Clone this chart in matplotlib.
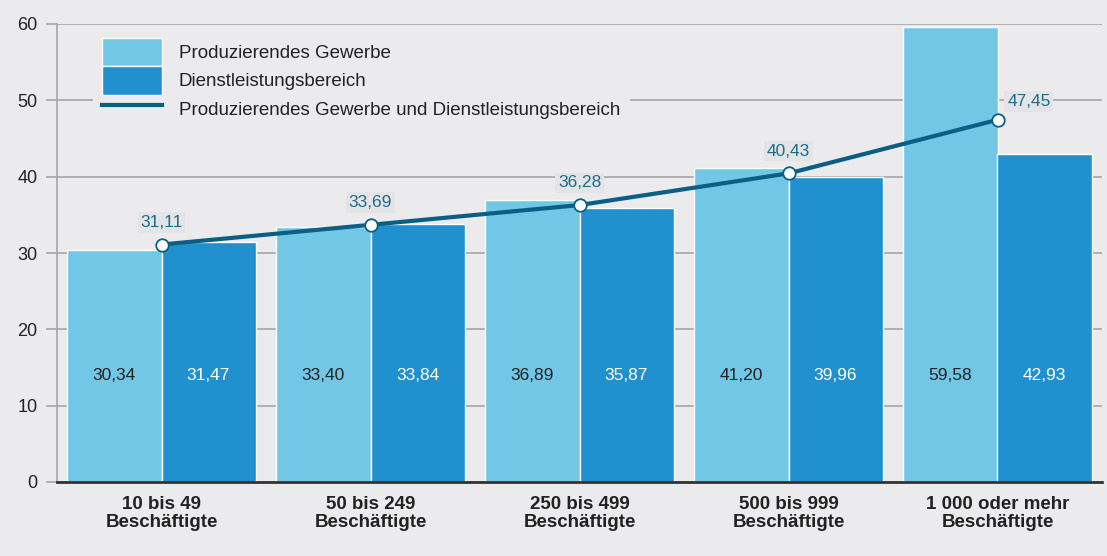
import matplotlib
matplotlib.use("Agg")
import matplotlib.pyplot as plt
import numpy as np
from matplotlib.patches import Patch
from matplotlib.lines import Line2D

categories = ["10 bis 49\nBeschäftigte", "50 bis 249\nBeschäftigte", "250 bis 499\nBeschäftigte",
              "500 bis 999\nBeschäftigte", "1 000 oder mehr\nBeschäftigte"]
produzierend = [30.34, 33.40, 36.89, 41.20, 59.58]
dienstleistung = [31.47, 33.84, 35.87, 39.96, 42.93]
gesamt = [31.11, 33.69, 36.28, 40.43, 47.45]
series_names = ["Produzierendes Gewerbe", "Dienstleistungsbereich",
                "Produzierendes Gewerbe und Dienstleistungsbereich"]
yticks = [0, 10, 20, 30, 40, 50, 60]

def fmt(v):
    return f"{v:.2f}".replace(".", ",")

plt.rcParams['font.family'] = ['Liberation Sans', 'DejaVu Sans']
BG = "#EBEBED"
LIGHT = "#72C6E6"
DARK = "#2190CF"
LINE = "#0B5F85"
GRID = "#A6A6A6"
TXT = "#222222"

fig = plt.figure(figsize=(11.07, 5.56), dpi=100, facecolor=BG)
W, H = 1107, 556
ax = fig.add_axes([57 / W, (H - 482) / H, 1045 / W, 458 / H])
ax.set_facecolor(BG)

x = np.arange(len(categories))
bw = 0.45
ax.bar(x - bw / 2, produzierend, bw, color=LIGHT, edgecolor="white", linewidth=1, zorder=3, clip_on=False)
ax.bar(x + bw / 2, dienstleistung, bw, color=DARK, edgecolor="white", linewidth=1, zorder=3, clip_on=False)

for i in range(len(x)):
    ax.text(x[i] - bw / 2, 14, fmt(produzierend[i]), ha="center", va="center", fontsize=12.5, color=TXT, zorder=5)
    ax.text(x[i] + bw / 2, 14, fmt(dienstleistung[i]), ha="center", va="center", fontsize=12.5, color="white", zorder=5)

ax.plot(x, gesamt, color=LINE, linewidth=3, zorder=6, solid_capstyle="butt",
        marker="o", markersize=9, markerfacecolor="white", markeredgecolor=LINE, markeredgewidth=1.3, clip_on=False)

lab_bbox = dict(facecolor="#E4E4E6", edgecolor="none", pad=2)
for i in range(len(x)):
    if i == len(x) - 1:
        ax.annotate(fmt(gesamt[i]), (x[i], gesamt[i]), xytext=(7, 13), textcoords="offset points",
                    ha="left", va="center", fontsize=12.5, color="#1D6C8E", bbox=lab_bbox, zorder=7)
    else:
        ax.annotate(fmt(gesamt[i]), (x[i], gesamt[i]), xytext=(0, 16), textcoords="offset points",
                    ha="center", va="center", fontsize=12.5, color="#1D6C8E", bbox=lab_bbox, zorder=7)

ax.set_xlim(-0.5, len(x) - 0.5)
ax.set_ylim(0, 60)
ax.set_yticks(yticks)
ax.set_yticklabels([str(t) for t in yticks], fontsize=13, color=TXT)
ax.tick_params(axis="y", length=8, width=1.2, color=GRID, pad=6)
ax.set_xticks(x)
ax.set_xticklabels(categories, fontsize=13.5, fontweight="bold", color=TXT, linespacing=1.12)
ax.tick_params(axis="x", length=0, pad=10)

ax.grid(axis="y", color=GRID, linewidth=1.2, zorder=0)
ax.set_axisbelow(True)
for s in ["top", "right"]:
    ax.spines[s].set_visible(False)
ax.spines["left"].set_color(GRID)
ax.spines["left"].set_linewidth(1.2)
ax.spines["bottom"].set_color("#333333")
ax.spines["bottom"].set_linewidth(2)
ax.spines["bottom"].set_zorder(8)

handles = [Patch(facecolor=LIGHT, edgecolor="white", linewidth=1),
           Patch(facecolor=DARK, edgecolor="white", linewidth=1),
           Line2D([0], [0], color=LINE, linewidth=3)]
leg = ax.legend(handles, series_names, loc="upper left", bbox_to_anchor=(0.034, 0.99),
                borderaxespad=0, frameon=True, facecolor=BG, edgecolor="none", framealpha=1,
                fontsize=13.5, handlelength=3.2, handleheight=1.95, labelspacing=0.0,
                handletextpad=0.9, borderpad=0.5, fancybox=False)
for t in leg.get_texts():
    t.set_color(TXT)
leg.set_zorder(4)

fig.savefig("out.png", dpi=100, facecolor=BG)
